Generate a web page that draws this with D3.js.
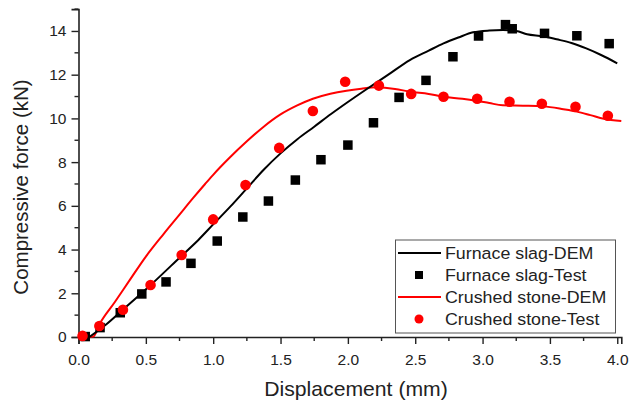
<!DOCTYPE html>
<html><head><meta charset="utf-8">
<script src="https://cdn.jsdelivr.net/npm/d3@7/dist/d3.min.js"></script>
<style>body{margin:0;background:#fff}svg{display:block}text{font-family:Arial,"Liberation Sans",sans-serif}</style>
</head><body><svg id="c" width="630" height="401"></svg>
<script>
const slagDEM_x = [0.08,0.2,0.32,0.536,0.766,0.89,1.0,1.125,1.25,1.375,1.5,1.625,1.75,1.875,2.0,2.13,2.3,2.46,2.6,2.71,2.82,2.93,3.05,3.15,3.25,3.33,3.45,3.55,3.66,3.77,3.88,4.0];
const slagDEM_y = [0,0.55,1.2,2.38,3.72,4.44,5.15,5.95,6.8,7.65,8.4,9.05,9.62,10.2,10.75,11.3,12.0,12.67,13.1,13.43,13.7,13.94,14.02,14.04,14.0,13.85,13.76,13.62,13.45,13.2,12.9,12.52];
const slagTest_x = [0.05,0.16,0.31,0.47,0.65,0.835,1.03,1.22,1.41,1.61,1.80,2.0,2.19,2.38,2.58,2.78,2.97,3.17,3.22,3.46,3.70,3.94];
const slagTest_y = [0.02,0.43,1.11,1.97,2.52,3.37,4.39,5.49,6.22,7.18,8.11,8.78,9.80,10.96,11.74,12.82,13.77,14.29,14.1,13.89,13.78,13.42];
const stoneDEM_x = [0,0.11,0.16,0.27,0.38,0.5,0.63,0.75,0.85,0.94,1.0,1.125,1.25,1.375,1.5,1.62,1.74,1.87,1.99,2.1,2.21,2.35,2.46,2.6,2.71,2.85,2.96,3.05,3.15,3.3,3.45,3.6,3.7,3.8,3.9,4.03];
const stoneDEM_y = [0,0.02,0.63,1.6,2.6,3.68,4.7,5.6,6.35,7.0,7.42,8.22,8.95,9.62,10.18,10.58,10.9,11.13,11.27,11.36,11.42,11.35,11.22,11.12,10.99,10.9,10.8,10.7,10.6,10.58,10.55,10.42,10.31,10.15,9.98,9.88];
const stoneTest_x = [0.03,0.155,0.33,0.535,0.766,1.0,1.24,1.49,1.74,1.98,2.23,2.47,2.71,2.96,3.20,3.44,3.69,3.93];
const stoneTest_y = [0.05,0.50,1.25,2.38,3.75,5.38,6.95,8.65,10.34,11.68,11.5,11.12,10.99,10.9,10.76,10.67,10.53,10.12];
const xTicks = [0,0.5,1.0,1.5,2.0,2.5,3.0,3.5,4.0];
const yTicks = [0,2,4,6,8,10,12,14];
const legendLabels = ["Furnace slag-DEM","Furnace slag-Test","Crushed stone-DEM","Crushed stone-Test"];

const svg = d3.select("#c");
const x = d3.scaleLinear().domain([0,4.03]).range([78.5, 621.3]);
const y = d3.scaleLinear().domain([0,15]).range([337, 9.1]);

// axes
const xAxis = d3.axisBottom(x).tickValues(xTicks).tickFormat(d3.format(".1f")).tickSize(7).tickPadding(10);
const yAxis = d3.axisLeft(y).tickValues(yTicks).tickFormat(d3.format("d")).tickSize(7).tickPadding(5);
const gx = svg.append("g").attr("transform","translate(0,337)").call(xAxis);
const gy = svg.append("g").attr("transform","translate(78.5,0)").call(yAxis);
[gx,gy].forEach(g=>{
  g.select(".domain").attr("stroke","#222").attr("stroke-width",1.6);
  g.selectAll(".tick line").attr("stroke","#222").attr("stroke-width",1.4);
  g.selectAll(".tick text").attr("font-size",15.5).attr("fill","#222").attr("font-family","Arial,'Liberation Sans',sans-serif");
});
// minor ticks
const xMinor = d3.range(0.25,4.0,0.5);
svg.append("g").selectAll("line").data(xMinor).join("line")
  .attr("x1",d=>x(d)).attr("x2",d=>x(d)).attr("y1",337).attr("y2",341)
  .attr("stroke","#222").attr("stroke-width",1.4);
const yMinor = [1,3,5,7,9,11,13,15];
svg.append("g").selectAll("line").data(yMinor).join("line")
  .attr("x1",78.5).attr("x2",74.5).attr("y1",d=>y(d)).attr("y2",d=>y(d))
  .attr("stroke","#222").attr("stroke-width",1.4);

// axis titles
svg.append("text").attr("x",356).attr("y",396).attr("text-anchor","middle")
  .attr("font-size",20).attr("fill","#222").attr("transform","translate(356,0) scale(1.06,1) translate(-356,0)")
  .text("Displacement (mm)");
svg.append("text").attr("transform","translate(28,187) rotate(-90)").attr("text-anchor","middle")
  .attr("font-size",20.5).attr("fill","#222").text("Compressive force (kN)");

const line = d3.line().x(d=>x(d[0])).y(d=>y(d[1])).curve(d3.curveMonotoneX);
const zip = (a,b)=>a.map((v,i)=>[v,b[i]]);

svg.append("path").datum(zip(stoneDEM_x,stoneDEM_y)).attr("d",line)
  .attr("fill","none").attr("stroke","#f00").attr("stroke-width",2);
svg.append("path").datum(zip(slagDEM_x,slagDEM_y)).attr("d",line)
  .attr("fill","none").attr("stroke","#000").attr("stroke-width",2);

svg.append("g").selectAll("rect").data(zip(slagTest_x,slagTest_y)).join("rect")
  .attr("x",d=>x(d[0])-4.75).attr("y",d=>y(d[1])-4.75).attr("width",9.5).attr("height",9.5).attr("fill","#000");
svg.append("g").selectAll("circle").data(zip(stoneTest_x,stoneTest_y)).join("circle")
  .attr("cx",d=>x(d[0])).attr("cy",d=>y(d[1])).attr("r",5.3).attr("fill","#f00");

// legend
const lg = svg.append("g");
lg.append("rect").attr("x",395.5).attr("y",240).attr("width",220).attr("height",93)
  .attr("fill","#fff").attr("stroke","#555").attr("stroke-width",1);
const ly = d3.scalePoint().domain(legendLabels).range([253,319]);
legendLabels.forEach((lab,i)=>{
  const cy = ly(lab);
  const col = i<2 ? "#000" : "#f00";
  if(i%2===0){
    lg.append("line").attr("x1",398).attr("x2",441).attr("y1",cy).attr("y2",cy).attr("stroke",col).attr("stroke-width",2);
  } else if(i===1){
    lg.append("rect").attr("x",415).attr("y",cy-4).attr("width",8).attr("height",8).attr("fill",col);
  } else {
    lg.append("circle").attr("cx",419).attr("cy",cy).attr("r",4.5).attr("fill",col);
  }
  lg.append("text").attr("x",445).attr("y",cy).attr("dy","0.36em").attr("font-size",16.5)
    .attr("transform",`translate(445,0) scale(1.08,1) translate(-445,0)`)
    .attr("fill","#222").text(lab);
});
</script></body></html>
